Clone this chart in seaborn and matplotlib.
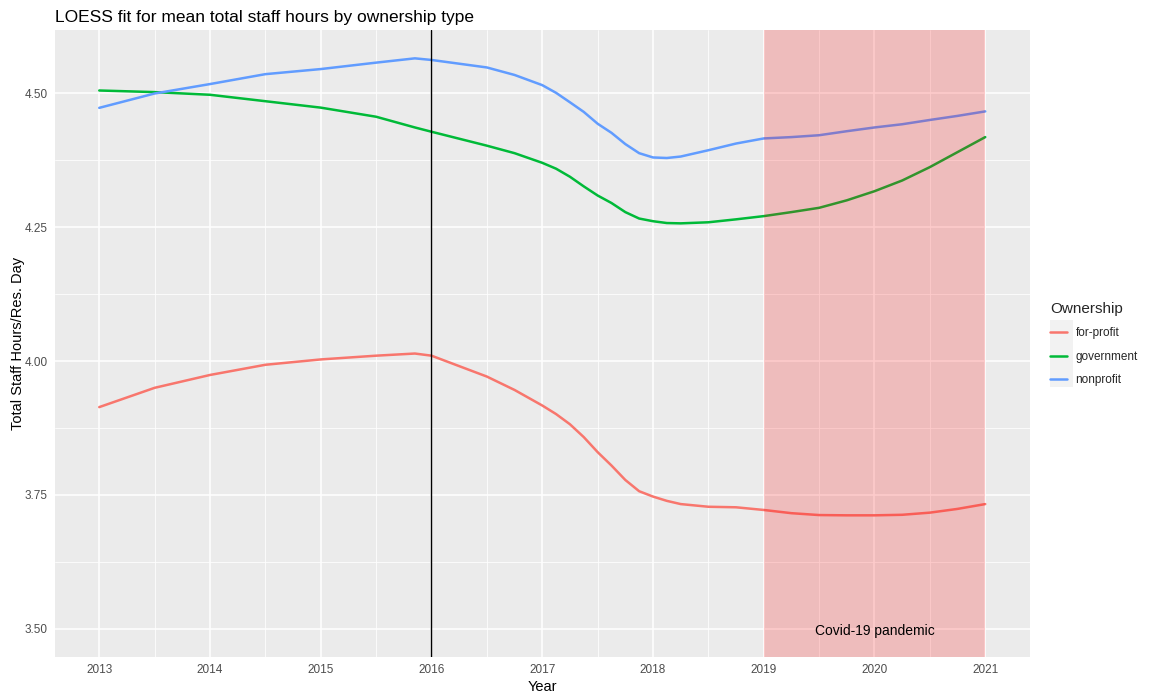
import matplotlib
matplotlib.use("Agg")
import matplotlib.pyplot as plt
from matplotlib.patches import Rectangle
import pandas as pd
import seaborn as sns
import numpy as np

# values
years = [2013, 2013.5, 2014, 2014.5, 2015, 2015.5, 2015.85, 2016, 2016.5, 2016.75,
         2017, 2017.125, 2017.25, 2017.375, 2017.5, 2017.625, 2017.75, 2017.875,
         2018, 2018.125, 2018.25, 2018.5, 2018.75, 2019, 2019.25, 2019.5, 2019.75,
         2020, 2020.25, 2020.5, 2020.75, 2021]
for_profit = [3.914, 3.950, 3.974, 3.993, 4.003, 4.010, 4.014, 4.010, 3.971, 3.946,
              3.917, 3.901, 3.882, 3.858, 3.830, 3.805, 3.778, 3.757,
              3.747, 3.739, 3.733, 3.728, 3.727, 3.722, 3.716, 3.7125, 3.712,
              3.712, 3.713, 3.717, 3.724, 3.733]
government = [4.505, 4.502, 4.497, 4.485, 4.473, 4.456, 4.436, 4.428, 4.402, 4.388,
              4.370, 4.359, 4.344, 4.326, 4.309, 4.295, 4.278, 4.266,
              4.261, 4.2576, 4.257, 4.259, 4.2645, 4.2705, 4.278, 4.286, 4.300,
              4.317, 4.337, 4.362, 4.390, 4.418]
nonprofit = [4.4726, 4.4994, 4.517, 4.5355, 4.545, 4.557, 4.565, 4.562, 4.548, 4.534,
             4.515, 4.5006, 4.483, 4.465, 4.443, 4.426, 4.405, 4.388,
             4.380, 4.379, 4.3817, 4.3935, 4.406, 4.4155, 4.418, 4.4215, 4.429,
             4.436, 4.442, 4.450, 4.4576, 4.466]
groups = ["for-profit", "government", "nonprofit"]
colors = ["#F8766D", "#00BA38", "#619CFF"]

df = pd.DataFrame({
    "Year": years * 3,
    "hours": for_profit + government + nonprofit,
    "Ownership": np.repeat(groups, len(years)),
})

sns.set_theme(style="darkgrid", rc={
    "axes.facecolor": "#EBEBEB",
    "grid.color": "white",
    "axes.edgecolor": "#EBEBEB",
    "xtick.color": "#333333",
    "ytick.color": "#333333",
})
plt.rcParams["font.family"] = ["Liberation Sans", "DejaVu Sans"]

fig = plt.figure(figsize=(11.52, 6.98), dpi=100)
ax = fig.add_axes([0.0477, 0.0587, 0.846, 0.898])

sns.lineplot(data=df, x="Year", y="hours", hue="Ownership", hue_order=groups,
             palette=colors, linewidth=1.8, ax=ax, legend=False)

ax.axvline(2016, color="black", linewidth=1)
# covid shading drawn over the lines like in the original
ax.axvspan(2019, 2021, color="red", alpha=0.2, linewidth=0, zorder=5)
ax.text(2020, 3.497, "Covid-19 pandemic", ha="center", va="center", fontsize=10,
        color="black", zorder=6)

ax.set_xlim(2012.6, 2021.4)
ax.set_ylim(3.4475, 4.6175)
ax.set_xticks(range(2013, 2022))
ax.set_xticks(np.arange(2013.5, 2021, 1), minor=True)
ax.set_yticks([3.50, 3.75, 4.00, 4.25, 4.50])
ax.set_yticklabels(["3.50", "3.75", "4.00", "4.25", "4.50"])
ax.set_yticks([3.625, 3.875, 4.125, 4.375], minor=True)
ax.grid(True, which="major", color="white", linewidth=1.1)
ax.grid(True, which="minor", color="white", linewidth=0.55)
ax.tick_params(axis="both", which="major", length=3, width=0.8, labelsize=8.5,
               labelcolor="#4D4D4D", pad=2)
ax.tick_params(axis="both", which="minor", length=0)
for s in ax.spines.values():
    s.set_visible(False)

ax.set_xlabel("Year", fontsize=10.5, color="black", labelpad=3)
ax.set_ylabel("Total Staff Hours/Res. Day", fontsize=10.5, color="black")
ax.yaxis.set_label_coords(-0.031, 0.5)
ax.set_title("LOESS fit for mean total staff hours by ownership type", loc="left",
             fontsize=12.5, color="black", pad=6)

# legend with grey key background like ggplot
fig.patches.append(Rectangle((0.9115, 0.4456), 0.0197, 0.096, transform=fig.transFigure,
                             facecolor="#F2F2F2", edgecolor="none", zorder=0))
handles = [plt.Line2D([], [], color=c, linewidth=1.8) for c in colors]
leg = fig.legend(handles, groups, title="Ownership", loc="upper left",
                 bbox_to_anchor=(0.9115, 0.567), frameon=False, fontsize=8.5,
                 title_fontsize=11, handlelength=1.45, labelspacing=0.95,
                 handletextpad=0.7, borderpad=0, borderaxespad=0, alignment="left")

fig.savefig("out.png", dpi=100)
